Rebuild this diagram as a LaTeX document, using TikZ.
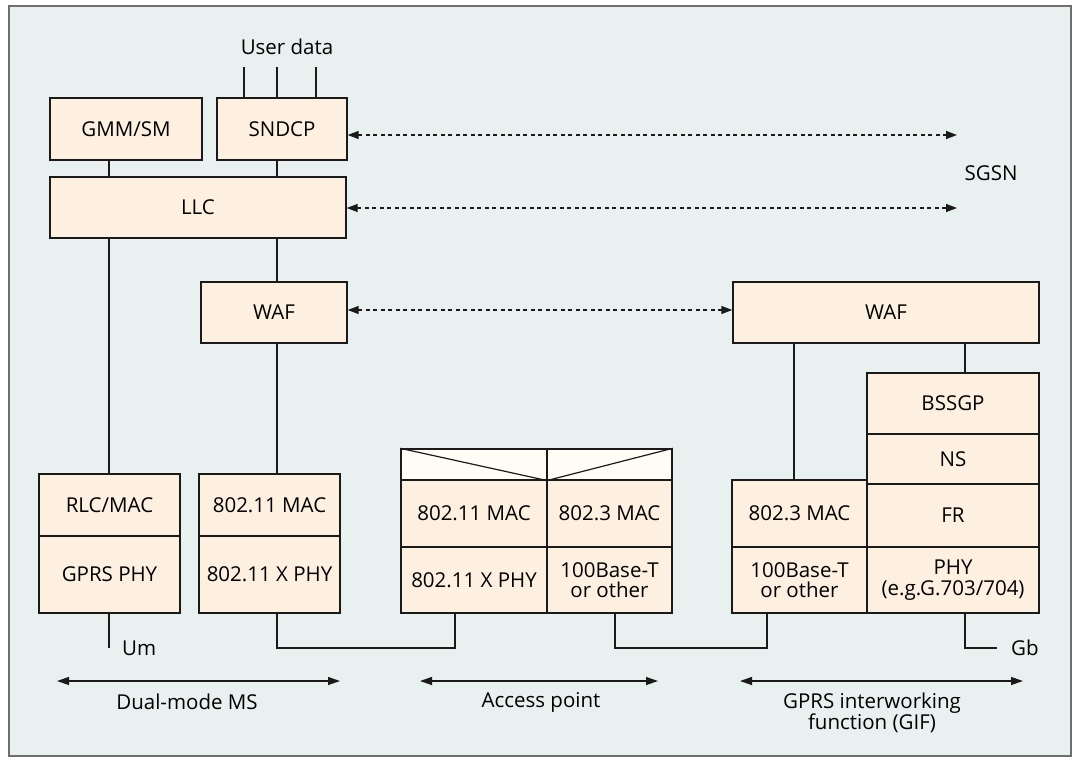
\documentclass[tikz,border=0pt]{standalone}
\usepackage{fontspec}
\setmainfont{Open Sans}
\usetikzlibrary{arrows.meta}
\definecolor{panel}{HTML}{E8F1F0}
\definecolor{layer}{HTML}{FEF0E1}
\definecolor{hdr}{HTML}{FFFBF5}
\definecolor{ink}{HTML}{1A1A1A}
\definecolor{rim}{HTML}{6E6E6E}
\begin{document}
\begin{tikzpicture}[x=1pt,y=-1pt,
  font=\fontsize{20.5}{20.5}\selectfont,
  layerbox/.style={draw=ink, line width=1.4pt, fill=layer, inner sep=0pt, align=center},
  hdrbox/.style={draw=ink, line width=1.4pt, fill=hdr, inner sep=0pt},
  link/.style={draw=ink, line width=1.2pt},
  peer/.style={link, dash pattern=on 4pt off 3.5pt,
    {Triangle[length=11pt,width=8pt]}-{Triangle[length=11pt,width=8pt]}},
  span/.style={link, {Triangle[length=12pt,width=8pt]}-{Triangle[length=12pt,width=8pt]}},
  lbl/.style={inner sep=0pt, align=center}]
\useasboundingbox (0,0) rectangle (1075,761);
% panel
\draw[fill=panel, draw=rim, line width=1.5pt] (9,6) rectangle (1071,756);

% dual-mode MS protocol stack
\node[layerbox, minimum width=152pt, minimum height=62pt] (gmm)   at (126,129)   {GMM/SM};
\node[layerbox, minimum width=130pt, minimum height=62pt] (sndcp) at (282,129)   {SNDCP};
\node[layerbox, minimum width=296pt, minimum height=61pt] (llc)   at (198,207.5) {LLC};
\node[layerbox, minimum width=146pt, minimum height=61pt] (wafl)  at (274,312.5) {WAF};
\node[layerbox, minimum width=141pt, minimum height=62pt] (rlc)   at (109.5,505) {RLC/MAC};
\node[layerbox, minimum width=141pt, minimum height=77pt] (gphy)  at (109.5,574.5) {GPRS PHY};
\node[layerbox, minimum width=141pt, minimum height=62pt] (mac11) at (269.5,505) {802.11 MAC};
\node[layerbox, minimum width=141pt, minimum height=77pt] (phy11) at (269.5,574.5) {802.11 X PHY};

% access point
\node[hdrbox, minimum width=146pt, minimum height=31pt] (aph1) at (474,464.5) {};
\node[hdrbox, minimum width=125pt, minimum height=31pt] (aph2) at (609.5,464.5) {};
\draw[link] (aph1.north west) -- (aph1.south east);
\draw[link] (aph2.south west) -- (aph2.north east);
\node[layerbox, minimum width=146pt, minimum height=67pt] (apmac11) at (474,513.5)   {802.11 MAC};
\node[layerbox, minimum width=125pt, minimum height=67pt] (apmac3)  at (609.5,513.5) {802.3 MAC};
\node[layerbox, minimum width=146pt, minimum height=66pt] (apphy11) at (474,580)     {802.11 X PHY};
\node[layerbox, minimum width=125pt, minimum height=66pt] (apbase)  at (609.5,580)   {100Base-T\\or other};

% GPRS interworking function
\node[layerbox, minimum width=306pt, minimum height=61pt] (wafr)  at (886,312.5) {WAF};
\node[layerbox, minimum width=172pt, minimum height=61pt] (bssgp) at (953,403.5) {BSSGP};
\node[layerbox, minimum width=172pt, minimum height=50pt] (ns)    at (953,459)   {NS};
\node[layerbox, minimum width=172pt, minimum height=63pt] (fr)    at (953,515.5) {FR};
\node[layerbox, minimum width=172pt, minimum height=66pt] (gphyb) at (953,580)   {PHY\\(e.g.G.703/704)};
\node[layerbox, minimum width=135pt, minimum height=67pt] (gmac3) at (799.5,513.5) {802.3 MAC};
\node[layerbox, minimum width=135pt, minimum height=66pt] (gbase) at (799.5,580)   {100Base-T\\or other};

% labels
\node[lbl] (udata) at (287,47) {User data};
\node[lbl] (sgsn)  at (991,173) {SGSN};
\node[lbl, anchor=west] (um) at (122,648) {Um};
\node[lbl, anchor=west] (gb) at (1011,648) {Gb};

% vertical positions of the connectors
\coordinate (xa) at (109,0);
\coordinate (xb) at (277,0);
\coordinate (xc) at (455,0);
\coordinate (xd) at (615,0);
\coordinate (xe) at (767,0);
\coordinate (xf) at (794,0);
\coordinate (xg) at (965,0);
\coordinate (bus) at (0,648);
\coordinate (u1) at (244,67);
\coordinate (u2) at (277,67);
\coordinate (u3) at (316,67);
\coordinate (gbend) at (997,648);

% user data feeds
\draw[link] (u1) -- (u1 |- sndcp.north);
\draw[link] (u2) -- (u2 |- sndcp.north);
\draw[link] (u3) -- (u3 |- sndcp.north);

% stack connections
\draw[link] (gmm.south -| xa) -- (llc.north -| xa);
\draw[link] (sndcp.south -| xb) -- (llc.north -| xb);
\draw[link] (llc.south -| xa) -- (rlc.north -| xa);
\draw[link] (llc.south -| xb) -- (wafl.north -| xb);
\draw[link] (wafl.south -| xb) -- (mac11.north -| xb);
\draw[link] (wafr.south -| xf) -- (gmac3.north -| xf);
\draw[link] (wafr.south -| xg) -- (bssgp.north -| xg);

% physical links
\draw[link] (gphy.south -| xa) -- (xa |- bus);
\draw[link] (phy11.south -| xb) -- (xb |- bus) -| (apphy11.south -| xc);
\draw[link] (apbase.south -| xd) -- (xd |- bus) -| (gbase.south -| xe);
\draw[link] (gphyb.south -| xg) -- (xg |- bus) -- (gbend);

% peer relations
\coordinate (sg1) at (957,135);
\coordinate (sg2) at (957,208);
\draw[peer] (sndcp.east |- sg1) -- (sg1);
\draw[peer] (llc.east |- sg2) -- (sg2);
\draw[peer] (wafl.east |- 0,310) -- (wafr.west |- 0,310);

% extents of the network elements
\coordinate (d1) at (57,681);   \coordinate (d2) at (340,681);
\coordinate (a1) at (420,681);  \coordinate (a2) at (658,681);
\coordinate (g1) at (740,681);  \coordinate (g2) at (1023,681);
\draw[span] (d1) -- (d2);
\draw[span] (a1) -- (a2);
\draw[span] (g1) -- (g2);
\node[lbl] (ms)  at (187,702) {Dual-mode MS};
\node[lbl] (ap)  at (541,702) {Access point};
\node[lbl] (gif) at (872,713) {GPRS interworking\\function (GIF)};
\end{tikzpicture}
\end{document}
